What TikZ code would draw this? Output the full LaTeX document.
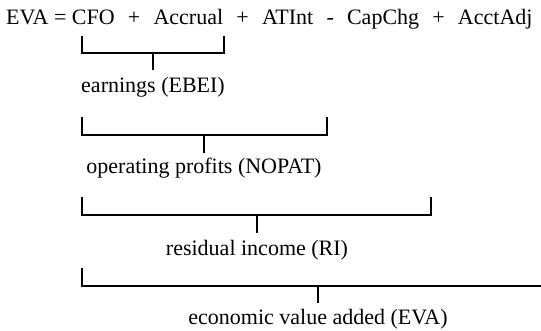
\documentclass[tikz,border=0pt]{standalone}
\usepackage{fontspec}
\setmainfont{Liberation Serif}
\usetikzlibrary{positioning}
\newcommand{\opgap}{\hspace{0.6em}}

\begin{document}
\begin{tikzpicture}[x=1pt, y=-1pt, font=\fontsize{22}{26}\selectfont,
    term/.style={anchor=base, inner sep=0pt},
    bracket/.style={line width=1.6pt, line join=miter}]
    \useasboundingbox (0,0) rectangle (541,331);
    \node[anchor=base west, inner sep=0pt](eq) at (6,25){EVA = CFO\opgap+\opgap Accrual\opgap+\opgap ATInt\opgap-\opgap CapChg\opgap+\opgap AcctAdj};

    % bracket corners and midpoints
    \coordinate (b1l) at (82,53);
    \coordinate (b1r) at (224,53);
    \coordinate (b1m) at (153,53);
    \coordinate (b2l) at (82,135);
    \coordinate (b2r) at (327,135);
    \coordinate (b2m) at (204,135);
    \coordinate (b3l) at (82,215);
    \coordinate (b3r) at (431,215);
    \coordinate (b3m) at (257,215);
    \coordinate (b4l) at (82,286);
    \coordinate (b4r) at (541,286);
    \coordinate (b4m) at (318,286);

    \node[term](ebei) at (153,93){earnings (EBEI)};
    \node[term](nopat) at (204,174){operating profits (NOPAT)};
    \node[term](ri) at (257,255){residual income (RI)};
    \node[term](eva) at (318,324){economic value added (EVA)};

    \draw[bracket] (b1l) ++(0,-17) -- (b1l) -- (b1r) -- ++(0,-17);
    \draw[bracket] (b2l) ++(0,-18) -- (b2l) -- (b2r) -- ++(0,-18);
    \draw[bracket] (b3l) ++(0,-18) -- (b3l) -- (b3r) -- ++(0,-18);
    \draw[bracket] (b4l) ++(0,-18) -- (b4l) -- (b4r);
    \draw[bracket] (b1m) -- ++(0,17);
    \draw[bracket] (b2m) -- ++(0,18);
    \draw[bracket] (b3m) -- ++(0,18);
    \draw[bracket] (b4m) -- ++(0,17);
\end{tikzpicture}
\end{document}
